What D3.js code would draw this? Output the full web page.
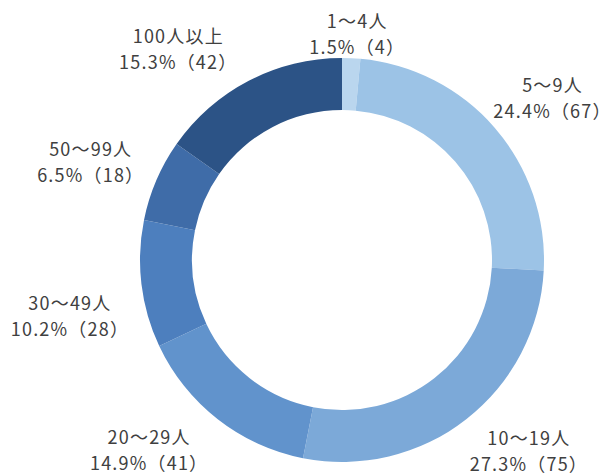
<!DOCTYPE html>
<html>
<head>
<meta charset="utf-8">
<script src="https://cdn.jsdelivr.net/npm/d3@7"></script>
<style>
    body { margin: 0; background: #fff; }
    svg { display: block; }
</style>
</head>
<body>
<div id="chart"></div>
<script>
var categories = ["1～4人", "5～9人", "10～19人", "20～29人", "30～49人", "50～99人", "100人以上"]
var counts = [4, 67, 75, 41, 28, 18, 42]
var percents = ["1.5%", "24.4%", "27.3%", "14.9%", "10.2%", "6.5%", "15.3%"]

var colors = ["#bad6ee", "#9cc3e6", "#7ca9d8", "#6193cc", "#4d7fbe", "#3f6ca8", "#2c5386"]
// label nudges from the centroid at label radius (Excel-like placement)
var labelNudge = [[3, 41], [8, 13], [22, -21], [-28, -22], [-6, 23], [-5, 7], [-40, 26]]

var width = 613, height = 475
var cx = 342, cy = 260
var outerR = 202, innerR = 150, labelR = 268

var svg = d3.select("#chart").append("svg").attr("width", width).attr("height", height)
var g = svg.append("g").attr("transform", "translate(" + cx + "," + cy + ")")

var data = categories.map((c, i) => {
    return {"name": c, "count": counts[i], "pct": percents[i], "i": i}
})

var pie = d3.pie().sort(null).value(function(d) { return d.count })
var arcs = pie(data)

var arc = d3.arc().innerRadius(innerR).outerRadius(outerR)
var labelArc = d3.arc().innerRadius(labelR).outerRadius(labelR)

g.selectAll("path")
    .data(arcs)
    .enter().append("path")
    .attr("d", arc)
    .attr("fill", function(d) { return colors[d.data.i] })

var label = g.selectAll("g.label")
    .data(arcs)
    .enter().append("g")
    .attr("class", "label")
    .attr("transform", function(d) {
        var c = labelArc.centroid(d)
        var n = labelNudge[d.data.i]
        return "translate(" + (c[0] + n[0]) + "," + (c[1] + n[1]) + ")"
    })

label.append("text")
    .attr("y", -13)
    .text(function(d) { return d.data.name })

label.append("text")
    .attr("y", 13)
    .text(function(d) { return d.data.pct + "（" + d.data.count + "）" })

label.selectAll("text")
    .attr("text-anchor", "middle")
    .attr("dominant-baseline", "central")
    .attr("font-family", "'Noto Sans CJK JP', 'Noto Sans', sans-serif")
    .attr("font-size", "18px")
    .attr("letter-spacing", "1.2px")
    .attr("fill", "#404040")
</script>
</body>
</html>
